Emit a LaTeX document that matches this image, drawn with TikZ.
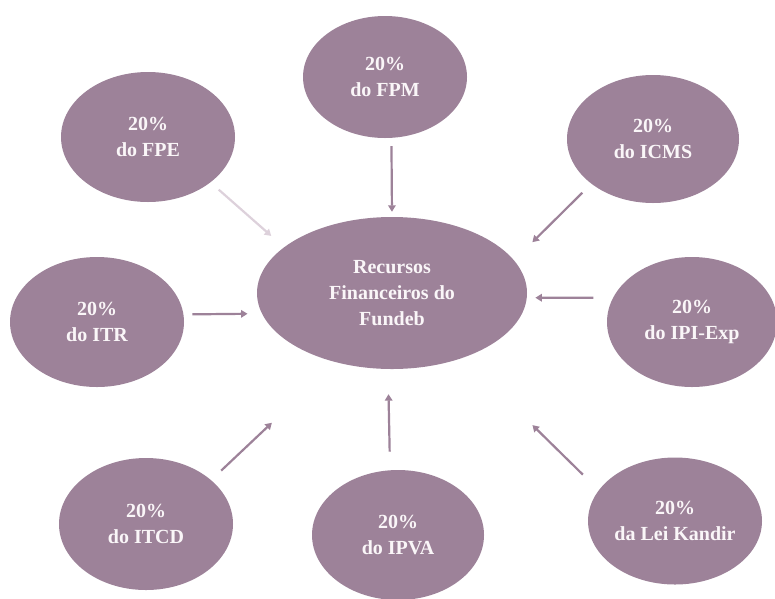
\documentclass[tikz,border=0pt]{standalone}
\usepackage{fontspec}
\setmainfont{Liberation Serif}
\usetikzlibrary{shapes.geometric,arrows.meta}
\definecolor{mauve}{RGB}{157,130,153}
\definecolor{lightmauve}{RGB}{221,209,219}
\definecolor{textwhite}{RGB}{250,246,248}

\begin{document}
\begin{tikzpicture}[x=1pt,y=-1pt,
    fonte/.style={ellipse,fill=mauve,text=textwhite,align=center,inner sep=0pt,
        font=\bfseries\fontsize{20}{26}\selectfont,minimum width=172pt,minimum height=128pt},
    seta/.style={draw=mauve,line width=2.2pt,-{Triangle[length=6.5pt,width=7.5pt]}}]
            \useasboundingbox (0,0) rectangle (775,598);
            \node[fonte,minimum width=270pt,minimum height=152pt] (fundeb) at (392,293) {Recursos\\Financeiros do\\Fundeb};
            \node[fonte,minimum width=164pt,minimum height=122pt] (fpm) at (385,77) {20\%\\do FPM};
            \node[fonte,minimum width=174pt,minimum height=130pt] (fpe) at (148,137) {20\%\\do FPE};
            \node[fonte] (icms) at (653,139) {20\%\\do ICMS};
            \node[fonte,minimum width=174pt,minimum height=130pt] (itr) at (97,322) {20\%\\do ITR};
            \node[fonte,minimum width=170pt,minimum height=130pt] (ipi) at (692,322) {20\%\\do IPI-Exp};
            \node[fonte,minimum width=174pt,minimum height=132pt] (itcd) at (146,524) {20\%\\do ITCD};
            \node[fonte,minimum height=130pt] (ipva) at (398,535) {20\%\\do IPVA};
            \node[fonte,minimum width=174pt,minimum height=127pt] (lei) at (675,521) {20\%\\da Lei Kandir};
            \foreach \a/\aa/\sa/\ba/\sb in {fpm/-84.5/8.2/90.8/5,icms/216.6/12.7/15.3/25.7,
                itr/5.3/8.7/189.2/14.3,ipi/163.9/19.5/-2.6/8.4,itcd/34.9/13.7/231.4/88,
                ipva/97.9/18.4/267.7/25,lei/158.2/22.2/-42.2/96.3}
            {
                \draw[seta,shorten <=\sa pt,shorten >=\sb pt] (\a.\aa) -- (fundeb.\ba);
            }
            \draw[seta,draw=lightmauve,shorten <=10.9pt,shorten >=17pt] (fpe.-36.4) -- (fundeb.157.8);
        \end{tikzpicture}
\end{document}
